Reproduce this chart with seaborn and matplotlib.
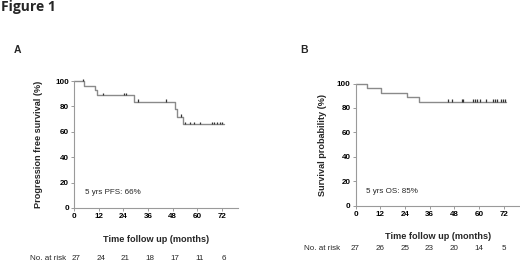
import numpy as np
import pandas as pd
import matplotlib
matplotlib.use("Agg")
import matplotlib.pyplot as plt
from matplotlib.path import Path
import seaborn as sns

# ---------------- data ----------------
xticks = [0, 12, 24, 36, 48, 60, 72]
yticks = [0, 20, 40, 60, 80, 100]

A_step_times = [0, 4.9, 10.2, 11.0, 29.0, 49.0, 50.0, 53.0, 72.8]
A_step_surv = [100, 96.3, 92.6, 88.9, 83.8, 77.6, 72.0, 66.2, 66.2]
A_censor_times = [4.2, 13.9, 24.2, 25.3, 31.2, 45.0, 52.3, 54.0, 56.3, 58.4,
                  61.4, 67.4, 68.3, 69.4, 71.0, 72.0]
A_at_risk = [27, 24, 21, 18, 17, 11, 6]

B_step_times = [0, 5.4, 12.3, 25.2, 30.9, 73.2]
B_step_surv = [100, 96.3, 92.6, 88.9, 85.2, 85.2]
B_censor_times = [44.8, 46.8, 51.7, 52.5, 57.1, 57.9, 59.0, 60.6, 63.5, 66.7,
                  67.9, 69.0, 70.8, 71.9, 72.7]
B_at_risk = [27, 26, 25, 23, 20, 14, 5]

# ---------------- style ----------------
sns.set_style("ticks")
plt.rcParams["font.family"] = ["Liberation Sans", "DejaVu Sans"]

LINE = "#8a8a8a"
AX = "#9a9a9a"
CENS = "#333333"

W, H = 520, 263
fig = plt.figure(figsize=(W / 100, H / 100), dpi=100)

up_tick = Path([[0, 0], [0, 1]])


def panel(rect, times, surv, ctimes, ylabel, ylab_x, note, risk, risk_y,
          risk_lbl_x, risk_dx):
    ax = fig.add_axes(rect)
    df = pd.DataFrame({"t": times, "s": surv})
    sns.lineplot(data=df, x="t", y="s", drawstyle="steps-post", ax=ax,
                 color=LINE, lw=1.0, estimator=None, clip_on=False)
    idx = np.searchsorted(times, ctimes, side="right") - 1
    cs = np.asarray(surv)[idx]
    cdf = pd.DataFrame({"t": ctimes, "s": cs})
    sns.scatterplot(data=cdf, x="t", y="s", ax=ax, marker=up_tick, s=12,
                    color=CENS, edgecolor=CENS, facecolor="none",
                    linewidth=0.9, clip_on=False, zorder=3)
    ax.set_xlim(0, 80)
    ax.set_ylim(0, 100)
    ax.set_xticks(xticks)
    ax.set_yticks(yticks)
    for sp in ["top", "right"]:
        ax.spines[sp].set_visible(False)
    for sp in ["left", "bottom"]:
        ax.spines[sp].set_color(AX)
        ax.spines[sp].set_linewidth(0.8)
    ax.tick_params(axis="both", length=2, width=0.7, color=AX, pad=1.5,
                   labelsize=5.8, labelcolor="black")
    for lab in ax.get_xticklabels() + ax.get_yticklabels():
        lab.set_fontweight("bold")
    ax.set_xlabel("Time follow up (months)", fontsize=6.6, fontweight="bold")
    ax.set_ylabel(ylabel, fontsize=6.6, fontweight="bold")
    ax.xaxis.set_label_coords(0.5, -0.213)
    ax.yaxis.set_label_coords(ylab_x, 0.5)
    ax.text(5.3, 12, note, fontsize=5.8, ha="left", va="center")
    trans = ax.get_xaxis_transform()
    ax.text(risk_lbl_x, risk_y, "No. at risk", fontsize=5.8, ha="right",
            va="center", transform=trans, clip_on=False)
    for xv, n in zip(xticks, risk):
        ax.text(xv + risk_dx, risk_y, str(n), fontsize=5.8, ha="center",
                va="center", transform=trans, clip_on=False)
    return ax


panel([74 / W, 1 - 208 / H, (238.3 - 74) / W, (208 - 81) / H],
      A_step_times, A_step_surv, A_censor_times,
      "Progression free survival (%)", -0.189, "5 yrs PFS: 66%",
      A_at_risk, -0.396, -3.9, 1.0)

panel([355.5 / W, 1 - 205.7 / H, (520 - 355.5) / W, (205.7 - 83.5) / H],
      B_step_times, B_step_surv, B_censor_times,
      "Survival probability (%)", -0.175, "5 yrs OS: 85%",
      B_at_risk, -0.349, -7.5, 0.0)

fig.text(1 / W, 1 - 7.5 / H, "Figure 1", fontsize=10, fontweight="bold",
         family=["Open Sans", "DejaVu Sans"], ha="left", va="center")
fig.text(17.5 / W, 1 - 50 / H, "A", fontsize=7.5, fontweight="bold",
         ha="center", va="center")
fig.text(303.7 / W, 1 - 49.7 / H, "B", fontsize=7.5, fontweight="bold",
         ha="center", va="center")

fig.savefig("out.png", dpi=100)
